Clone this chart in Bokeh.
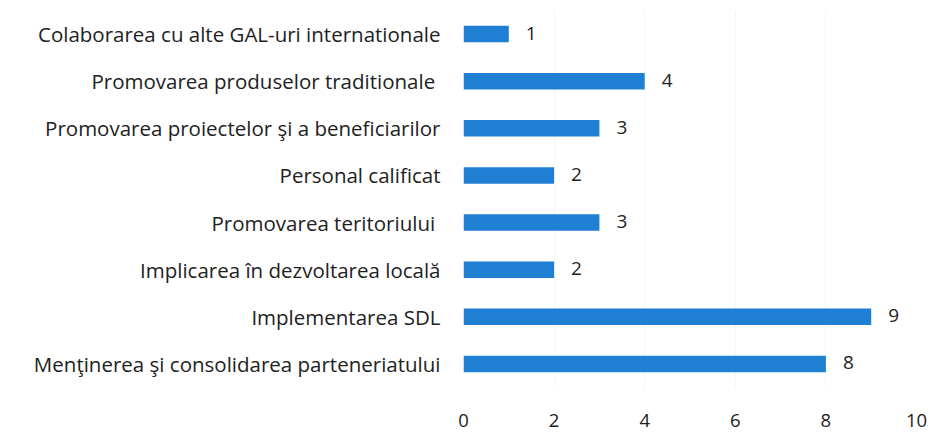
from bokeh.plotting import figure
from bokeh.models import ColumnDataSource, FactorRange, Range1d, LabelSet, FixedTicker
from bokeh.core.properties import value
from bokeh.embed import file_html
from bokeh.resources import INLINE

# Data (top to bottom as displayed)
categories = [
    "Colaborarea cu alte GAL-uri internationale",
    "Promovarea produselor traditionale ",
    "Promovarea proiectelor şi a beneficiarilor",
    "Personal calificat",
    "Promovarea teritoriului ",
    "Implicarea în dezvoltarea locală",
    "Implementarea SDL",
    "Menţinerea şi consolidarea parteneriatului",
]
values = [1, 4, 3, 2, 3, 2, 9, 8]
x_ticks = [0, 2, 4, 6, 8, 10]

FONT = "Open Sans"
TXT = "#222222"
src = ColumnDataSource(dict(cat=categories, val=values, lab=[str(v) for v in values]))

p = figure(
    y_range=FactorRange(factors=list(reversed(categories))),
    x_range=Range1d(0, 10),
    frame_width=453, frame_height=377,
    min_border_left=463, min_border_right=15,
    min_border_top=10, min_border_bottom=53,
    output_backend="svg", toolbar_location=None,
    background_fill_color="white", border_fill_color="white",
)
p.outline_line_color = None

p.hbar(y="cat", right="val", left=0, height=0.35, source=src,
       fill_color="#1f7fd3", line_color=None)

labels = LabelSet(x="val", y="cat", text="lab", source=src,
                  x_offset=17, y_offset=1, text_baseline="middle",
                  text_font=value(FONT), text_font_size="19px", text_color=TXT)
p.add_layout(labels)

# axes
p.xaxis.ticker = FixedTicker(ticks=x_ticks)
p.xaxis.axis_line_color = None
p.xaxis.major_tick_line_color = None
p.xaxis.minor_tick_line_color = None
p.xaxis.major_tick_out = 0
p.xaxis.major_label_standoff = 26
p.xaxis.major_label_text_font = FONT
p.xaxis.major_label_text_font_size = "18.5px"
p.xaxis.major_label_text_color = TXT

p.yaxis.axis_line_color = None
p.yaxis.major_tick_line_color = None
p.yaxis.major_tick_out = 0
p.yaxis.major_label_standoff = 23
p.yaxis.major_label_text_font = FONT
p.yaxis.major_label_text_font_size = "20.5px"
p.yaxis.major_label_text_color = TXT

p.ygrid.grid_line_color = None
p.xgrid.grid_line_color = "#f5f5f5"

open("out.html", "w").write(file_html(p, INLINE))
